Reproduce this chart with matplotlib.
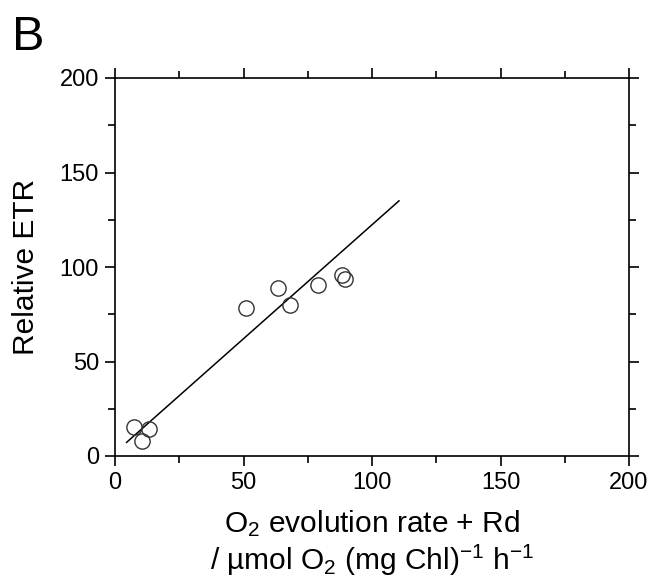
import numpy as np
import matplotlib
matplotlib.use('Agg')
import matplotlib.pyplot as plt
from matplotlib.ticker import MultipleLocator

plt.rcParams['font.family'] = ['Liberation Sans', 'DejaVu Sans']
plt.rcParams['mathtext.fontset'] = 'custom'
plt.rcParams['mathtext.rm'] = 'Liberation Sans'
plt.rcParams['mathtext.default'] = 'regular'

# data
o2_rate = [7.5, 10.6, 13.4, 50.8, 63.3, 68.0, 79.0, 88.2, 89.4]
rel_etr = [15.5, 8.1, 14.1, 78.1, 88.7, 79.9, 90.6, 95.8, 93.5]
# regression line, end points
fit_x = [4.5, 110.5]
fit_y = [7.2, 135.0]

fig = plt.figure(figsize=(6.52, 5.81), dpi=100)
ax = fig.add_axes([115/652, 1-456/581, (629-115)/652, (456-78)/581])

ax.plot(fit_x, fit_y, color='black', lw=1.1, zorder=2)
ax.plot(o2_rate, rel_etr, 'o', mfc='none', mec='#333333', mew=1.0, ms=11, zorder=3)

ax.set_xlim(0, 200)
ax.set_ylim(0, 200)
ax.xaxis.set_major_locator(MultipleLocator(50))
ax.xaxis.set_minor_locator(MultipleLocator(25))
ax.yaxis.set_major_locator(MultipleLocator(50))
ax.yaxis.set_minor_locator(MultipleLocator(25))
ax.tick_params(which='both', direction='out', top=True, right=True, width=1.2,
               labelsize=17, pad=4)
ax.tick_params(which='major', length=7.5)
ax.tick_params(which='minor', length=5)
for s in ax.spines.values():
    s.set_linewidth(1.2)

ax.set_ylabel('Relative ETR', fontsize=21.5, labelpad=14)
ax.set_xlabel('O$_2$ evolution rate + Rd\n/ µmol O$_2$ (mg Chl)$^{-1}$ h$^{-1}$',
              fontsize=21.5, labelpad=10, linespacing=1.15)

fig.text(12/652, 1-50/581, 'B', fontsize=35)

plt.savefig('out.png', dpi=100)
plt.close()
